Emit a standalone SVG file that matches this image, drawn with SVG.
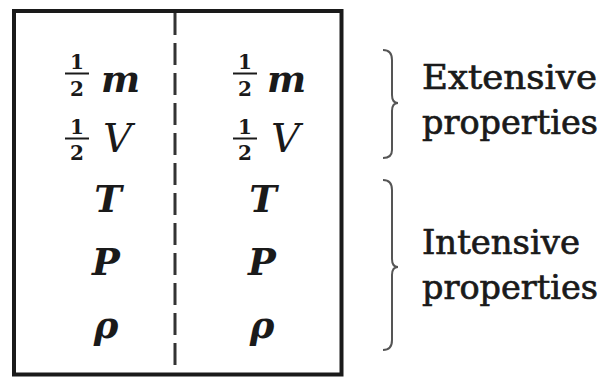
<svg xmlns="http://www.w3.org/2000/svg" width="606" height="384" viewBox="0 0 606 384">
<style>
.num{font-family:"DejaVu Serif",serif;font-weight:bold;font-size:20px;text-anchor:middle;fill:#1a1a1a}
.var{font-family:"DejaVu Serif",serif;font-weight:bold;font-style:italic;font-size:37px;fill:#1a1a1a}
.vv{font-family:"DejaVu Serif",serif;font-style:italic;font-size:40px;fill:#1a1a1a}
.lbl{font-family:"DejaVu Serif",serif;font-size:34px;fill:#1a1a1a;stroke:#1a1a1a;stroke-width:0.7}
.fl{stroke:#1a1a1a;stroke-width:2}
.brace{fill:none;stroke:#555;stroke-width:2}
</style>
<rect width="606" height="384" fill="#fff"/>
<g id="box">
<rect x="14" y="11" width="327.5" height="363.5" fill="none" stroke="#1a1a1a" stroke-width="4"/>
</g>
<g id="connectors">
<line x1="175" y1="13" x2="175" y2="373" stroke="#333" stroke-width="3" stroke-dasharray="22 8"/>
<path class="brace" d="M383,50 Q392,50 392,60 L392,95 Q392,103 398,103 Q392,103 392,111 L392,150 Q392,158 383,158"/>
<path class="brace" d="M383,180 Q392,180 392,190 L392,259 Q392,267 398,267 Q392,267 392,275 L392,340 Q392,350 383,350"/>
</g>
<g id="left">
<text class="num" x="77" y="69">1</text><line class="fl" x1="65" y1="73.5" x2="89" y2="73.5"/><text class="num" x="77" y="96">2</text>
<text class="var" x="101" y="92">m</text>
<text class="num" x="77" y="134">1</text><line class="fl" x1="65" y1="138.5" x2="89" y2="138.5"/><text class="num" x="77" y="160">2</text>
<text class="vv" x="103" y="152">V</text>
<text class="var" x="108" y="212" text-anchor="middle">T</text>
<text class="var" x="106" y="275" text-anchor="middle">P</text>
<text class="var" x="106" y="338" text-anchor="middle">ρ</text>
</g>
<g id="right">
<text class="num" x="245" y="69">1</text><line class="fl" x1="233" y1="73.5" x2="257" y2="73.5"/><text class="num" x="245" y="96">2</text>
<text class="var" x="267" y="92">m</text>
<text class="num" x="245" y="134">1</text><line class="fl" x1="233" y1="138.5" x2="257" y2="138.5"/><text class="num" x="245" y="160">2</text>
<text class="vv" x="271" y="152">V</text>
<text class="var" x="263" y="212" text-anchor="middle">T</text>
<text class="var" x="262" y="275" text-anchor="middle">P</text>
<text class="var" x="262" y="338" text-anchor="middle">ρ</text>
</g>
<g id="extensive">
<text class="lbl" x="422" y="89" textLength="175" lengthAdjust="spacingAndGlyphs">Extensive</text>
<text class="lbl" x="422" y="134" textLength="176" lengthAdjust="spacingAndGlyphs">properties</text>
</g>
<g id="intensive">
<text class="lbl" x="422" y="254" textLength="158" lengthAdjust="spacingAndGlyphs">Intensive</text>
<text class="lbl" x="422" y="299" textLength="176" lengthAdjust="spacingAndGlyphs">properties</text>
</g>
</svg>
